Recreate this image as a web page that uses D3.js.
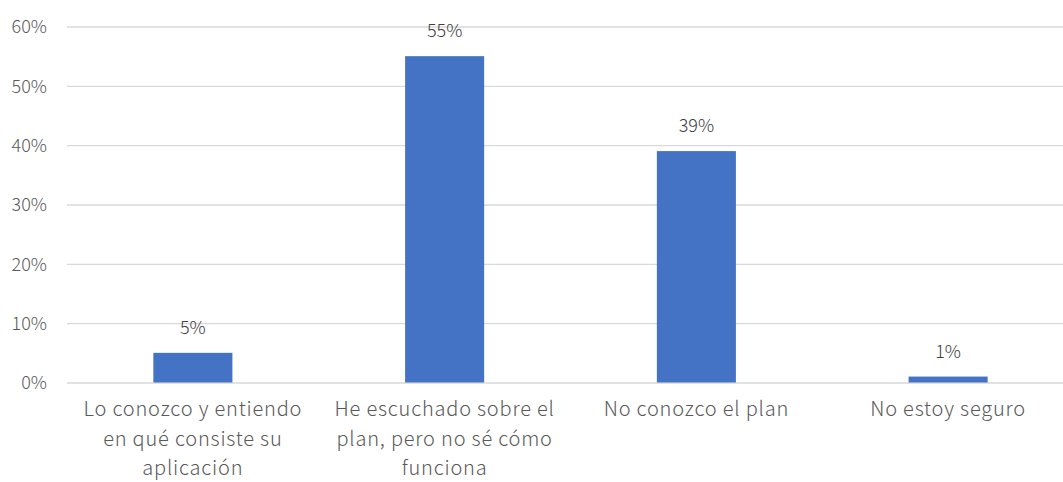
<!DOCTYPE html>
<html><head><meta charset="utf-8">
<script src="https://cdn.jsdelivr.net/npm/d3@7"></script>
<style>body{margin:0;background:#fff}svg{display:block}</style>
</head><body>
<script>
const categories = [
  "Lo conozco y entiendo en qué consiste su aplicación",
  "He escuchado sobre el plan, pero no sé cómo funciona",
  "No conozco el plan",
  "No estoy seguro"
];
const values = [5, 55, 39, 1];
const yTicks = [0, 10, 20, 30, 40, 50, 60];

const W = 1063, H = 482;
const font = "'Noto Sans CJK SC', 'Noto Sans', sans-serif";
const svg = d3.select("body").append("svg").attr("width", W).attr("height", H);

const x = d3.scaleBand().domain(categories).range([67, 1074]).paddingInner(0.686).paddingOuter(0.343);
const y = d3.scaleLinear().domain([0, 60]).range([382.5, 26.5]);

// grid
const yAxis = d3.axisLeft(y).tickValues(yTicks).tickFormat(d => d + "%").tickSize(-(1074 - 67)).tickPadding(20);
const ga = svg.append("g").attr("transform", "translate(67,0)").call(yAxis);
ga.select(".domain").remove();
ga.selectAll(".tick line").attr("stroke", "#d9d9d9").attr("stroke-width", 1.3);
ga.selectAll(".tick text").attr("fill", "#595959").style("font-family", font).style("font-size", "18px").style("font-weight", 300).attr("dy", "0.35em");

// bars
svg.selectAll("rect.bar").data(values).join("rect").attr("class", "bar")
  .attr("x", (d, i) => x(categories[i]))
  .attr("width", x.bandwidth())
  .attr("y", d => y(d))
  .attr("height", d => y(0) - y(d))
  .attr("fill", "#4472C4");

// value labels
svg.selectAll("text.val").data(values).join("text").attr("class", "val")
  .attr("x", (d, i) => x(categories[i]) + x.bandwidth() / 2)
  .attr("y", d => y(d) - 19)
  .attr("text-anchor", "middle")
  .attr("fill", "#404040")
  .style("font-family", font).style("font-size", "18px").style("font-weight", 300)
  .text(d => d + "%");

// x labels with wrapping
const maxW = 228;
const lblStyle = s => s.style("font-family", font).style("font-size", "20px").style("font-weight", 300).style("letter-spacing", "0.8px");
const measure = svg.append("text").call(lblStyle);
function wrap(str) {
  const words = str.split(" ");
  const lines = [];
  let cur = "";
  for (const w of words) {
    const t = cur ? cur + " " + w : w;
    measure.text(t);
    if (measure.node().getComputedTextLength() > maxW && cur) { lines.push(cur); cur = w; }
    else cur = t;
  }
  if (cur) lines.push(cur);
  return lines;
}
categories.forEach((c, i) => {
  const lines = wrap(c);
  const t = svg.append("text")
    .attr("x", x(c) + x.bandwidth() / 2)
    .attr("text-anchor", "middle")
    .attr("fill", "#595959")
    .call(lblStyle);
  lines.forEach((l, j) => {
    t.append("tspan").attr("x", x(c) + x.bandwidth() / 2).attr("y", 416 + j * 29.5).text(l);
  });
});
measure.remove();
</script>
</body></html>
